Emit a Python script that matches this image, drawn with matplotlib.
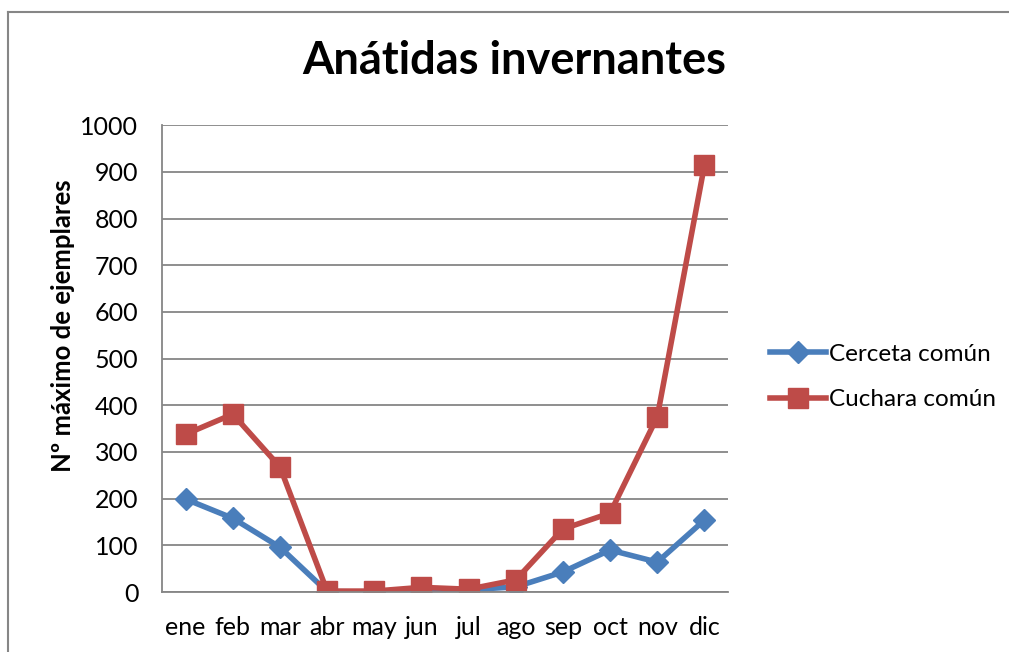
import matplotlib
matplotlib.use("Agg")
import matplotlib.pyplot as plt
from matplotlib.lines import Line2D

plt.rcParams['font.family'] = ['Lato', 'DejaVu Sans']

months = ["ene", "feb", "mar", "abr", "may", "jun",
          "jul", "ago", "sep", "oct", "nov", "dic"]
cerceta = [199, 158, 96, 1, 0, 2, 5, 11, 43, 90, 64, 154]
cuchara = [338, 381, 268, 2, 2, 10, 6, 26, 135, 169, 375, 914]
y_ticks = [0, 100, 200, 300, 400, 500, 600, 700, 800, 900, 1000]

BLUE = "#4a7ebb"
RED = "#be4b48"
GRID = "#868686"

fig = plt.figure(figsize=(10.09, 6.52), dpi=100)
ax = fig.add_axes([0.1606, 0.092, 0.7215 - 0.1606, 0.716])

x = list(range(len(months)))
ax.plot(x, cerceta, color=BLUE, lw=4, marker="D", ms=11,
        label="Cerceta común", solid_joinstyle="round")
ax.plot(x, cuchara, color=RED, lw=4, marker="s", ms=14,
        label="Cuchara común", solid_joinstyle="round")

ax.set_xlim(-0.5, len(months) - 0.5)
ax.set_ylim(0, 1000)
ax.set_yticks(y_ticks)
ax.set_xticks(x)
ax.set_xticklabels(months)
ax.yaxis.grid(True, color=GRID, lw=1.3)
ax.set_axisbelow(True)
ax.tick_params(axis="both", length=0, labelsize=18)
ax.tick_params(axis="x", pad=17)
ax.tick_params(axis="y", pad=17)

for side in ("top", "right"):
    ax.spines[side].set_visible(False)
for side in ("left", "bottom"):
    ax.spines[side].set_color(GRID)
    ax.spines[side].set_linewidth(1.3)

ax.set_ylabel("Nº máximo de ejemplares", fontsize=18.5, fontweight="bold", labelpad=0)
ax.yaxis.set_label_coords(63 / 1009, 0.5, transform=fig.transFigure)
ax.yaxis.label.set_va("center")
fig.text(0.5095, 0.906, "Anátidas invernantes", fontsize=32.5, fontweight="bold",
         ha="center", va="center")

ax.legend(loc="center left", bbox_to_anchor=(748 / 1009, 1 - 377 / 652),
          bbox_transform=fig.transFigure, frameon=False,
          fontsize=17.5, handlelength=2.3, handletextpad=0.15, labelspacing=1.0)

# outer chart frame (left and top edges)
fig.add_artist(Line2D([8 / 1009, 8 / 1009], [0, 1 - 12 / 652], color=GRID, lw=1.5))
fig.add_artist(Line2D([8 / 1009, 1], [1 - 12 / 652, 1 - 12 / 652], color=GRID, lw=1.5))

fig.savefig("out.png", dpi=100)
